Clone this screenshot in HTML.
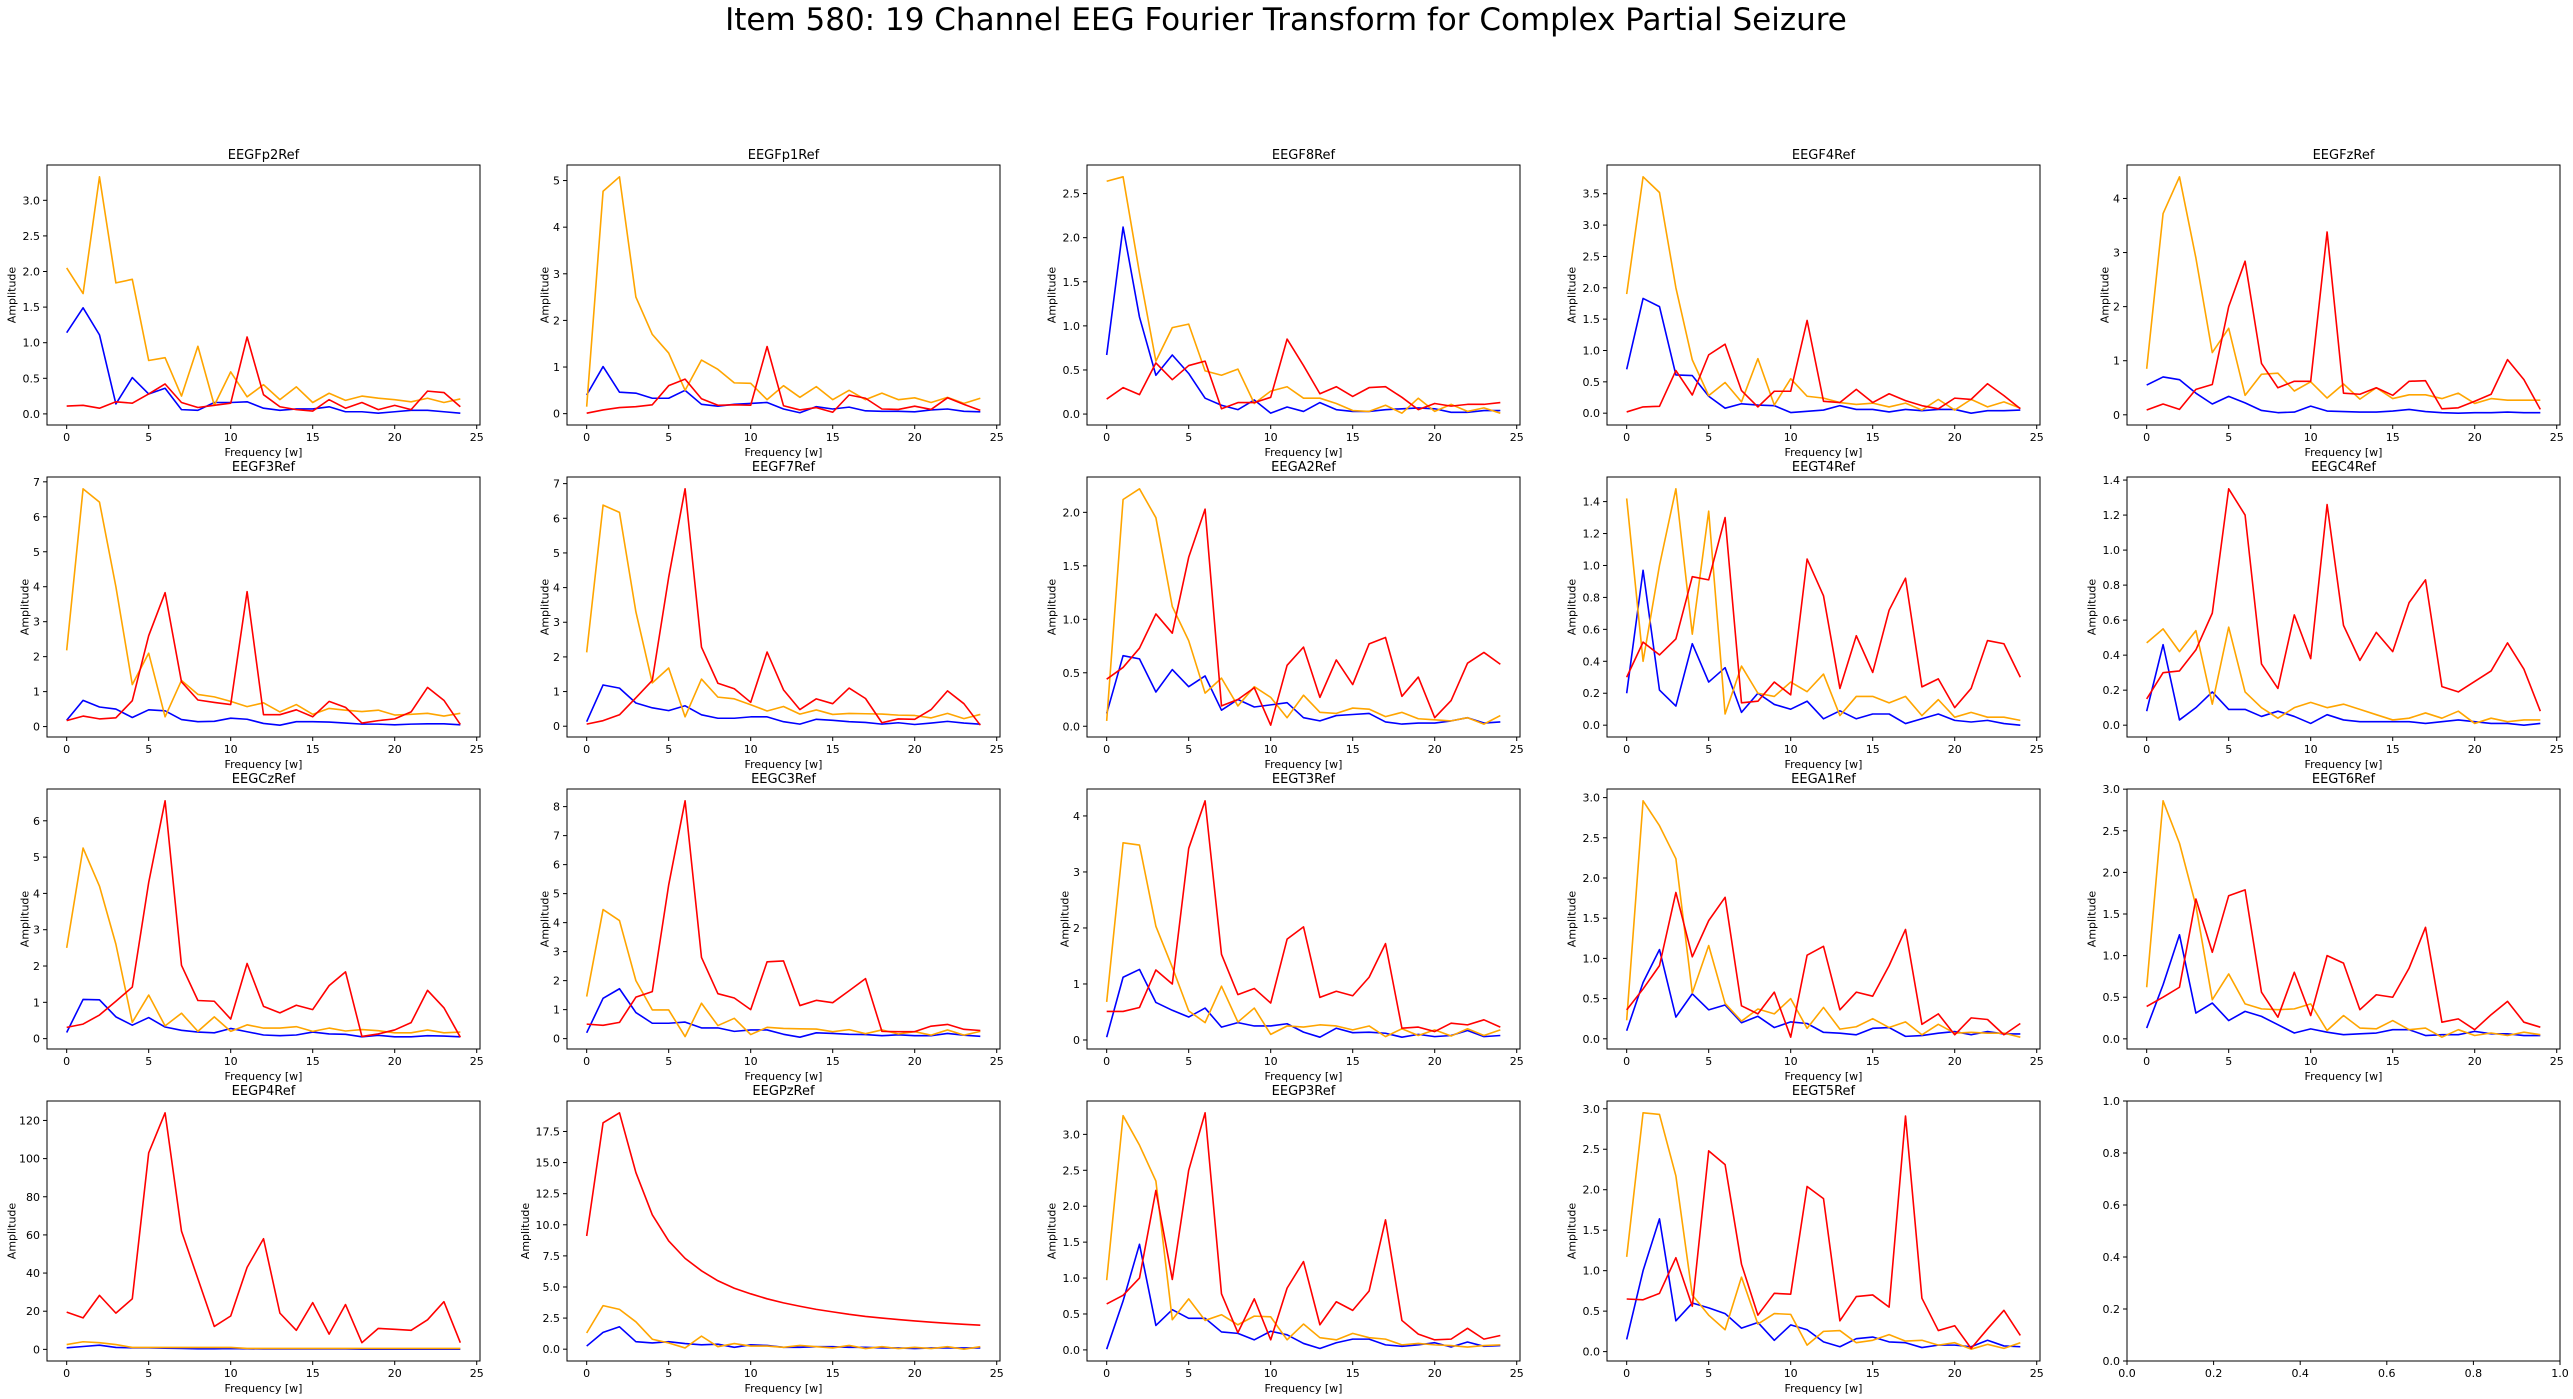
<!DOCTYPE html>
<html>
<head>
<meta charset="utf-8">
<style>
  html,body{margin:0;padding:0;background:#fff;}
  svg{display:block;font-family:"DejaVu Sans","Liberation Sans",sans-serif;}
</style>
</head>
<body>
<svg id="fig" width="2573" height="1399" viewBox="0 0 2573 1399" xmlns="http://www.w3.org/2000/svg">
  <rect x="0" y="0" width="2573" height="1399" fill="#ffffff"/>
  <text x="1286" y="30" text-anchor="middle" font-size="31" fill="#000">Item 580: 19 Channel EEG Fourier Transform for Complex Partial Seizure</text>
</svg>
<script>
const channels = ["EEGFp2Ref","EEGFp1Ref","EEGF8Ref","EEGF4Ref","EEGFzRef","EEGF3Ref","EEGF7Ref","EEGA2Ref","EEGT4Ref","EEGC4Ref","EEGCzRef","EEGC3Ref","EEGT3Ref","EEGA1Ref","EEGT6Ref","EEGP4Ref","EEGPzRef","EEGP3Ref","EEGT5Ref"];
const freqs = [0,1,2,3,4,5,6,7,8,9,10,11,12,13,14,15,16,17,18,19,20,21,22,23,24];
const xTicks = [0,5,10,15,20,25];
const blueSeries = [
[1.14,1.49,1.11,0.14,0.51,0.28,0.36,0.06,0.05,0.16,0.16,0.17,0.08,0.05,0.07,0.07,0.1,0.03,0.03,0.01,0.03,0.05,0.05,0.03,0.01],
[0.4,1.01,0.46,0.44,0.33,0.33,0.5,0.2,0.16,0.2,0.22,0.24,0.1,0.02,0.15,0.1,0.14,0.06,0.05,0.05,0.04,0.08,0.1,0.05,0.04],
[0.67,2.12,1.1,0.44,0.67,0.46,0.18,0.1,0.05,0.16,0.01,0.08,0.03,0.13,0.05,0.03,0.03,0.05,0.06,0.07,0.06,0.02,0.02,0.04,0.04],
[0.7,1.83,1.7,0.61,0.6,0.27,0.08,0.15,0.13,0.12,0.01,0.03,0.05,0.12,0.06,0.06,0.02,0.06,0.04,0.06,0.06,0.0,0.04,0.04,0.05],
[0.55,0.7,0.65,0.4,0.2,0.34,0.22,0.08,0.04,0.05,0.16,0.07,0.06,0.05,0.05,0.07,0.1,0.06,0.04,0.03,0.04,0.04,0.05,0.04,0.04],
[0.18,0.75,0.56,0.5,0.26,0.48,0.45,0.2,0.14,0.15,0.24,0.21,0.09,0.04,0.14,0.14,0.13,0.1,0.07,0.07,0.05,0.07,0.08,0.08,0.05],
[0.13,1.19,1.1,0.67,0.53,0.45,0.59,0.33,0.23,0.23,0.27,0.27,0.13,0.06,0.2,0.17,0.13,0.11,0.06,0.1,0.05,0.09,0.14,0.09,0.06],
[0.12,0.66,0.63,0.32,0.53,0.37,0.47,0.15,0.25,0.18,0.2,0.22,0.08,0.05,0.1,0.11,0.12,0.04,0.02,0.03,0.03,0.05,0.08,0.03,0.04],
[0.2,0.97,0.22,0.12,0.51,0.27,0.36,0.08,0.2,0.13,0.1,0.15,0.04,0.09,0.04,0.07,0.07,0.01,0.04,0.07,0.03,0.02,0.03,0.01,0.0],
[0.08,0.46,0.03,0.1,0.19,0.09,0.09,0.05,0.08,0.05,0.01,0.06,0.03,0.02,0.02,0.02,0.02,0.01,0.02,0.03,0.02,0.01,0.01,0.0,0.01],
[0.17,1.08,1.07,0.6,0.37,0.58,0.32,0.23,0.18,0.16,0.28,0.19,0.1,0.08,0.1,0.18,0.13,0.12,0.05,0.09,0.05,0.05,0.08,0.07,0.05],
[0.2,1.39,1.72,0.9,0.53,0.53,0.57,0.37,0.37,0.25,0.3,0.3,0.15,0.05,0.2,0.18,0.15,0.14,0.1,0.13,0.1,0.1,0.18,0.12,0.08],
[0.05,1.12,1.26,0.67,0.53,0.41,0.57,0.23,0.31,0.25,0.25,0.29,0.14,0.05,0.21,0.13,0.14,0.12,0.05,0.1,0.06,0.08,0.17,0.06,0.08],
[0.1,0.7,1.11,0.27,0.56,0.36,0.42,0.2,0.28,0.14,0.21,0.19,0.08,0.07,0.05,0.13,0.14,0.03,0.04,0.07,0.09,0.05,0.09,0.06,0.06],
[0.13,0.65,1.25,0.31,0.43,0.22,0.33,0.27,0.17,0.07,0.12,0.08,0.05,0.06,0.07,0.11,0.11,0.04,0.05,0.05,0.09,0.06,0.06,0.04,0.04],
[0.8,1.5,2.2,1.0,0.8,0.8,0.6,0.5,0.3,0.3,0.4,0.3,0.2,0.2,0.2,0.2,0.2,0.2,0.1,0.1,0.1,0.1,0.1,0.1,0.1],
[0.25,1.35,1.8,0.6,0.5,0.6,0.45,0.35,0.4,0.15,0.35,0.3,0.15,0.15,0.2,0.2,0.15,0.15,0.1,0.1,0.05,0.1,0.1,0.1,0.1],
[0.01,0.68,1.47,0.34,0.56,0.44,0.44,0.25,0.23,0.14,0.26,0.21,0.09,0.02,0.1,0.15,0.15,0.07,0.05,0.07,0.1,0.04,0.11,0.05,0.06],
[0.15,1.0,1.64,0.38,0.6,0.54,0.47,0.29,0.36,0.14,0.33,0.27,0.12,0.06,0.16,0.18,0.12,0.11,0.05,0.08,0.08,0.06,0.14,0.07,0.06]
];
const orangeSeries = [
[2.05,1.69,3.33,1.84,1.89,0.75,0.79,0.25,0.95,0.12,0.59,0.24,0.41,0.2,0.38,0.16,0.29,0.19,0.25,0.22,0.2,0.17,0.22,0.16,0.21],
[0.15,4.77,5.08,2.5,1.7,1.3,0.5,1.15,0.95,0.66,0.65,0.3,0.6,0.35,0.58,0.3,0.5,0.3,0.44,0.3,0.34,0.24,0.35,0.22,0.33],
[2.64,2.69,1.6,0.6,0.98,1.02,0.49,0.44,0.51,0.12,0.26,0.31,0.18,0.18,0.12,0.04,0.03,0.1,0.01,0.18,0.03,0.11,0.03,0.07,0.01],
[1.9,3.77,3.52,2.0,0.85,0.28,0.49,0.18,0.87,0.13,0.55,0.27,0.24,0.17,0.14,0.16,0.1,0.16,0.05,0.22,0.05,0.22,0.1,0.18,0.08],
[0.85,3.72,4.4,2.9,1.15,1.6,0.36,0.75,0.77,0.44,0.61,0.31,0.57,0.29,0.5,0.3,0.37,0.37,0.3,0.4,0.21,0.3,0.27,0.27,0.27],
[2.18,6.8,6.42,4.0,1.2,2.1,0.28,1.32,0.92,0.85,0.72,0.57,0.68,0.42,0.63,0.35,0.52,0.47,0.43,0.47,0.33,0.35,0.38,0.3,0.38],
[2.13,6.38,6.17,3.3,1.25,1.68,0.27,1.36,0.84,0.79,0.62,0.44,0.57,0.35,0.47,0.34,0.37,0.36,0.35,0.32,0.31,0.24,0.37,0.22,0.34],
[0.05,2.12,2.22,1.95,1.12,0.8,0.31,0.45,0.19,0.37,0.27,0.08,0.29,0.13,0.12,0.17,0.16,0.09,0.13,0.07,0.06,0.05,0.08,0.02,0.1],
[1.42,0.4,1.0,1.48,0.57,1.34,0.07,0.37,0.2,0.18,0.27,0.21,0.32,0.06,0.18,0.18,0.14,0.18,0.06,0.16,0.05,0.08,0.05,0.05,0.03],
[0.47,0.55,0.42,0.54,0.12,0.56,0.19,0.1,0.04,0.1,0.13,0.1,0.12,0.09,0.06,0.03,0.04,0.07,0.04,0.08,0.01,0.04,0.02,0.03,0.03],
[2.5,5.25,4.2,2.6,0.45,1.2,0.35,0.7,0.2,0.6,0.2,0.38,0.29,0.29,0.33,0.2,0.29,0.21,0.25,0.22,0.16,0.16,0.24,0.16,0.18],
[1.45,4.45,4.07,2.0,0.99,0.99,0.07,1.22,0.45,0.7,0.14,0.39,0.35,0.34,0.33,0.24,0.31,0.17,0.3,0.16,0.24,0.12,0.3,0.12,0.25],
[0.68,3.52,3.48,2.03,1.3,0.52,0.31,0.96,0.32,0.57,0.1,0.25,0.23,0.27,0.25,0.18,0.25,0.06,0.2,0.08,0.18,0.07,0.2,0.08,0.18],
[0.23,2.96,2.65,2.24,0.57,1.16,0.44,0.22,0.37,0.31,0.5,0.13,0.39,0.12,0.15,0.25,0.14,0.21,0.05,0.18,0.07,0.08,0.07,0.07,0.02],
[0.62,2.86,2.35,1.6,0.47,0.78,0.42,0.36,0.35,0.36,0.42,0.1,0.28,0.13,0.12,0.22,0.11,0.13,0.02,0.11,0.04,0.07,0.04,0.08,0.05],
[2.5,4.0,3.5,2.5,1.0,1.0,1.0,1.0,1.0,1.0,1.0,0.5,0.5,0.5,0.5,0.5,0.5,0.5,0.5,0.5,0.5,0.5,0.5,0.5,0.5],
[1.3,3.5,3.2,2.2,0.8,0.5,0.1,1.05,0.2,0.45,0.25,0.25,0.15,0.3,0.2,0.1,0.3,0.05,0.2,0.05,0.15,0.05,0.2,0.0,0.2],
[0.97,3.26,2.85,2.35,0.42,0.71,0.41,0.49,0.35,0.47,0.46,0.14,0.36,0.17,0.14,0.23,0.17,0.15,0.07,0.09,0.07,0.06,0.04,0.06,0.07],
[1.17,2.95,2.93,2.17,0.7,0.45,0.27,0.92,0.34,0.47,0.46,0.08,0.25,0.26,0.11,0.14,0.21,0.13,0.14,0.08,0.11,0.03,0.09,0.04,0.11]
];
const redSeries = [
[0.11,0.12,0.08,0.17,0.15,0.28,0.42,0.16,0.09,0.12,0.15,1.08,0.27,0.1,0.06,0.04,0.2,0.08,0.16,0.06,0.12,0.06,0.32,0.3,0.1],
[0.01,0.08,0.13,0.15,0.19,0.6,0.74,0.32,0.18,0.19,0.18,1.44,0.17,0.08,0.13,0.03,0.4,0.33,0.1,0.09,0.16,0.09,0.34,0.2,0.07],
[0.17,0.3,0.22,0.58,0.39,0.55,0.6,0.06,0.13,0.13,0.19,0.85,0.55,0.23,0.31,0.2,0.3,0.31,0.19,0.05,0.12,0.09,0.11,0.11,0.13],
[0.02,0.1,0.11,0.68,0.29,0.93,1.1,0.36,0.1,0.35,0.35,1.48,0.19,0.17,0.38,0.17,0.31,0.2,0.12,0.07,0.24,0.22,0.47,0.28,0.07],
[0.09,0.2,0.1,0.47,0.56,2.0,2.84,0.95,0.5,0.62,0.62,3.38,0.4,0.38,0.5,0.36,0.62,0.63,0.11,0.13,0.25,0.38,1.02,0.65,0.1],
[0.17,0.3,0.22,0.25,0.74,2.6,3.83,1.28,0.76,0.69,0.63,3.86,0.34,0.34,0.48,0.28,0.72,0.55,0.1,0.17,0.22,0.42,1.12,0.75,0.06],
[0.06,0.16,0.33,0.82,1.32,4.3,6.85,2.28,1.24,1.08,0.69,2.14,1.05,0.48,0.79,0.65,1.1,0.8,0.1,0.21,0.2,0.48,1.02,0.65,0.03],
[0.44,0.55,0.73,1.05,0.87,1.58,2.03,0.19,0.25,0.36,0.01,0.57,0.74,0.27,0.62,0.39,0.77,0.83,0.28,0.46,0.08,0.24,0.59,0.69,0.58],
[0.3,0.52,0.44,0.54,0.93,0.91,1.3,0.14,0.15,0.27,0.19,1.04,0.81,0.23,0.56,0.33,0.72,0.92,0.24,0.29,0.11,0.23,0.53,0.51,0.3],
[0.15,0.3,0.31,0.43,0.64,1.35,1.2,0.35,0.21,0.63,0.38,1.26,0.57,0.37,0.53,0.42,0.7,0.83,0.22,0.19,0.25,0.31,0.47,0.32,0.08],
[0.31,0.4,0.65,1.03,1.42,4.3,6.55,2.02,1.05,1.03,0.54,2.07,0.89,0.71,0.92,0.8,1.46,1.84,0.06,0.13,0.24,0.44,1.33,0.85,0.04],
[0.5,0.46,0.56,1.43,1.62,5.3,8.2,2.8,1.55,1.4,1.0,2.65,2.68,1.14,1.32,1.24,1.65,2.07,0.25,0.24,0.24,0.43,0.49,0.32,0.28],
[0.51,0.51,0.58,1.25,1.0,3.42,4.27,1.53,0.81,0.92,0.66,1.8,2.02,0.76,0.87,0.79,1.12,1.72,0.21,0.23,0.15,0.3,0.27,0.36,0.23],
[0.36,0.62,0.91,1.82,1.02,1.47,1.76,0.41,0.31,0.58,0.02,1.04,1.15,0.36,0.58,0.53,0.91,1.36,0.18,0.31,0.05,0.26,0.24,0.05,0.19],
[0.39,0.5,0.62,1.68,1.04,1.72,1.79,0.56,0.26,0.8,0.28,1.0,0.91,0.35,0.53,0.5,0.85,1.34,0.2,0.24,0.11,0.29,0.45,0.2,0.14],
[19.5,16.5,28.3,19,26.5,103,124,62,37,12,17.5,43,58,19,10,24.5,8,23.5,3.5,11,10.5,10,15.5,25,3.5],
[9.1,18.2,19.0,14.2,10.8,8.7,7.3,6.3,5.5,4.9,4.45,4.05,3.72,3.45,3.2,3.0,2.8,2.63,2.5,2.38,2.27,2.17,2.08,2.0,1.93],
[0.64,0.76,1.0,2.22,0.98,2.5,3.3,0.78,0.24,0.71,0.14,0.86,1.23,0.35,0.67,0.55,0.82,1.81,0.41,0.22,0.14,0.15,0.3,0.15,0.2],
[0.65,0.64,0.72,1.16,0.56,2.48,2.31,1.08,0.45,0.72,0.71,2.04,1.89,0.38,0.68,0.7,0.55,2.91,0.66,0.26,0.32,0.04,0.28,0.51,0.2]
];
const emptyTicks = [0,0.2,0.4,0.6,0.8,1.0];

const NS = "http://www.w3.org/2000/svg";
const svg = document.getElementById("fig");
const AX_W = 433, AX_H = 260;
function mk(tag, attrs, parent){ const e=document.createElementNS(NS,tag); for(const k in attrs) e.setAttribute(k,attrs[k]); parent.appendChild(e); return e; }

function niceStep(range){
  const mags=[1,2,2.5,5];
  let p = Math.pow(10, Math.floor(Math.log10(range))-2);
  for(let k=0;k<6;k++){ for(const m of mags){ const s=m*p; if(range/s<=9) return s; } p*=10; }
  return range;
}
function decimals(s){ const str=String(+s.toFixed(6)); const i=str.indexOf('.'); return i<0?0:str.length-i-1; }

function drawAxes(idx, left, top, name, series, xmin,xmax,ymin,ymax, yStep, xTickVals, xLabelFmt, withLabels){
  const g = mk("g",{},svg);
  
  
  const sx = v => left + (v-xmin)/(xmax-xmin)*AX_W;
  const sy = v => top + AX_H - (v-ymin)/(ymax-ymin)*AX_H;
  const colors = ["#0000ff","#ffa500","#ff0000"];
  const snames = ["blue","orange","red"];
  const clip = mk("clipPath",{id:"clip"+idx},g);
  mk("rect",{x:left,y:top,width:AX_W,height:AX_H},clip);
  series.forEach((arr,si)=>{
    const pts = arr.map((v,i)=>sx(freqs[i]).toFixed(2)+","+sy(v).toFixed(2)).join(" ");
    const pl = mk("polyline",{points:pts,fill:"none",stroke:colors[si],"stroke-width":"1.6","stroke-linejoin":"round","clip-path":"url(#clip"+idx+")"},g);
    
    
  });
  const fr = mk("rect",{x:left,y:top,width:AX_W,height:AX_H,fill:"none",stroke:"#000","stroke-width":"1"},g);
  
  
  xTickVals.forEach(t=>{
    if(t<xmin-1e-9||t>xmax+1e-9) return;
    const x=sx(t);
    mk("line",{x1:x,y1:top+AX_H,x2:x,y2:top+AX_H+4,stroke:"#000","stroke-width":"1"},g);
    const tx = mk("text",{x:x,y:top+AX_H+16,"text-anchor":"middle","font-size":"11",fill:"#000"},g);
    tx.textContent = xLabelFmt(t);
    
    
  });
  const d = decimals(yStep);
  let maxw = 0;
  for(let t=Math.ceil(ymin/yStep)*yStep; t<=ymax+1e-9; t+=yStep){
    const y=sy(t);
    mk("line",{x1:left-4,y1:y,x2:left,y2:y,stroke:"#000","stroke-width":"1"},g);
    const lab = (Math.abs(t)<1e-9?0:t).toFixed(d);
    maxw = Math.max(maxw, lab.length);
    const ty = mk("text",{x:left-7,y:y+4,"text-anchor":"end","font-size":"11",fill:"#000"},g);
    ty.textContent = lab;
    
    
  }
  if(withLabels){
    const tt = mk("text",{x:left+AX_W/2,y:top-6,"text-anchor":"middle","font-size":"13",fill:"#000"},g);
    tt.textContent = name;
    
    
    const xl = mk("text",{x:left+AX_W/2,y:top+AX_H+31,"text-anchor":"middle","font-size":"11",fill:"#000"},g);
    xl.textContent = "Frequency [w]";
    
    
    const lx = left - 12 - maxw*6.5;
    const yl = mk("text",{x:lx,y:top+AX_H/2,"text-anchor":"middle","font-size":"11",fill:"#000",transform:"rotate(-90 "+lx+" "+(top+AX_H/2)+")"},g);
    yl.textContent = "Amplitude";
    
    
  }
}

channels.forEach((name,i)=>{
  const col=i%5, row=Math.floor(i/5);
  const left=47+520*col, top=165+312*row;
  const s=[blueSeries[i],orangeSeries[i],redSeries[i]];
  let lo=Infinity, hi=-Infinity;
  s.forEach(a=>a.forEach(v=>{lo=Math.min(lo,v);hi=Math.max(hi,v);}));
  const m=(hi-lo)*0.05;
  const ymin=lo-m, ymax=hi+m;
  const xm=(freqs[freqs.length-1]-freqs[0])*0.05;
  drawAxes(i,left,top,name,s,freqs[0]-xm,freqs[freqs.length-1]+xm,ymin,ymax,niceStep(ymax-ymin),xTicks,t=>String(t),true);
});
drawAxes(19,47+520*4,165+312*3,"",[],0,1,0,1,0.2,emptyTicks,t=>t.toFixed(1),false);
</script>
</body>
</html>
